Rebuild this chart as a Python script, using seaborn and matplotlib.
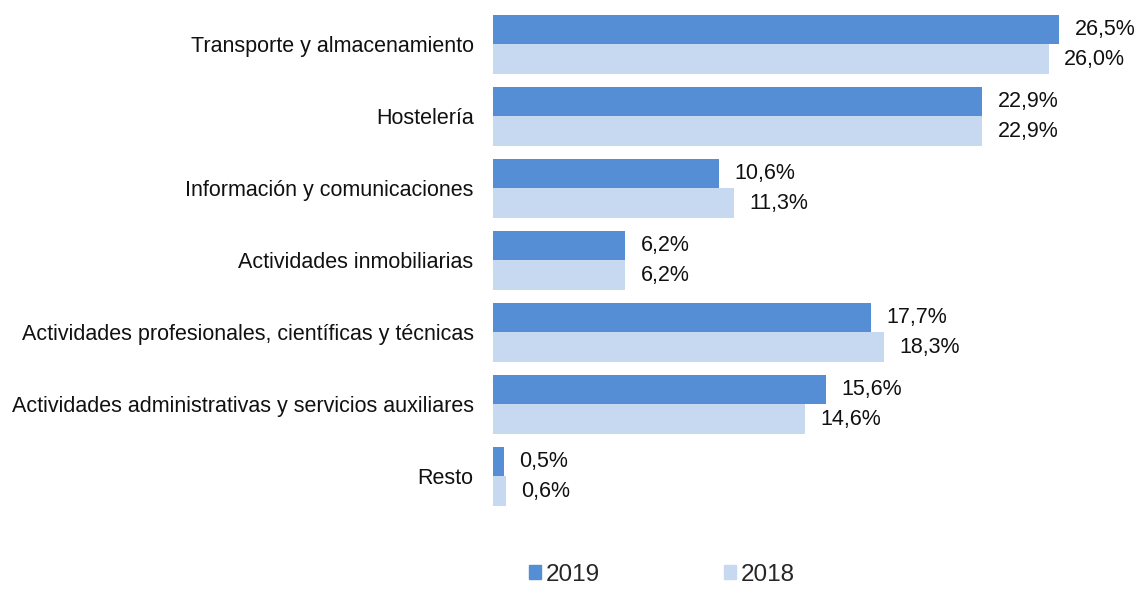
import pandas as pd
import numpy as np
import matplotlib.pyplot as plt
import matplotlib.patches as mpatches
import seaborn as sns

# ─── DATA ───────────────────────────────────────────────────────────────────
sectores = [
    'Transporte y almacenamiento',
    'Hostelería',
    'Información y comunicaciones',
    'Actividades inmobiliarias',
    'Actividades profesionales, científicas y técnicas',
    'Actividades administrativas y servicios auxiliares',
    'Resto',
]
v2019 = [26.5, 22.9, 10.6, 6.2, 17.7, 15.6, 0.5]
v2018 = [26.0, 22.9, 11.3, 6.2, 18.3, 14.6, 0.6]
years = ['2019', '2018']

C2019 = '#558ED5'
C2018 = '#C6D9F1'

df = pd.DataFrame({
    'sector': sectores * 2,
    'valor': v2019 + v2018,
    'year': [years[0]] * len(sectores) + [years[1]] * len(sectores),
})

# ─── PLOT ───────────────────────────────────────────────────────────────────
sns.set_style('white')
plt.rcParams['font.family'] = ['Liberation Sans', 'DejaVu Sans']

fig = plt.figure(figsize=(11.4, 5.89), dpi=100)
ax = fig.add_axes([493 / 1140, 0.1299, 641 / 1140, 0.8557])

sns.barplot(data=df, y='sector', x='valor', hue='year', hue_order=years,
            palette=[C2019, C2018], orient='h', width=0.82,
            linewidth=0, saturation=1, ax=ax, legend=False)

for cont in ax.containers:
    ax.bar_label(cont, labels=[f'{b.get_width():.1f}'.replace('.', ',') + '%' for b in cont],
                 padding=11, fontsize=15.5, color='#111111')

ax.set_xlim(0, 30)
ax.set_ylim(6.5, -0.5)
ax.set_xlabel('')
ax.set_ylabel('')
ax.set_xticks([])
ax.tick_params(axis='y', length=0, pad=14, labelsize=15.5, labelcolor='#111111')
sns.despine(ax=ax, left=True, bottom=True)

handles = [mpatches.Patch(color=C2019, label='2019'),
           mpatches.Patch(color=C2018, label='2018')]
fig.legend(handles=handles, loc='center', bbox_to_anchor=(662 / 1140, 1 - 575 / 589),
           ncol=2, frameon=False, fontsize=17.5, handlelength=0.5, handleheight=0.5,
           handletextpad=0.2, columnspacing=5.1, borderpad=0.1)

plt.savefig('out.png', dpi=100, facecolor='white')
plt.close()
